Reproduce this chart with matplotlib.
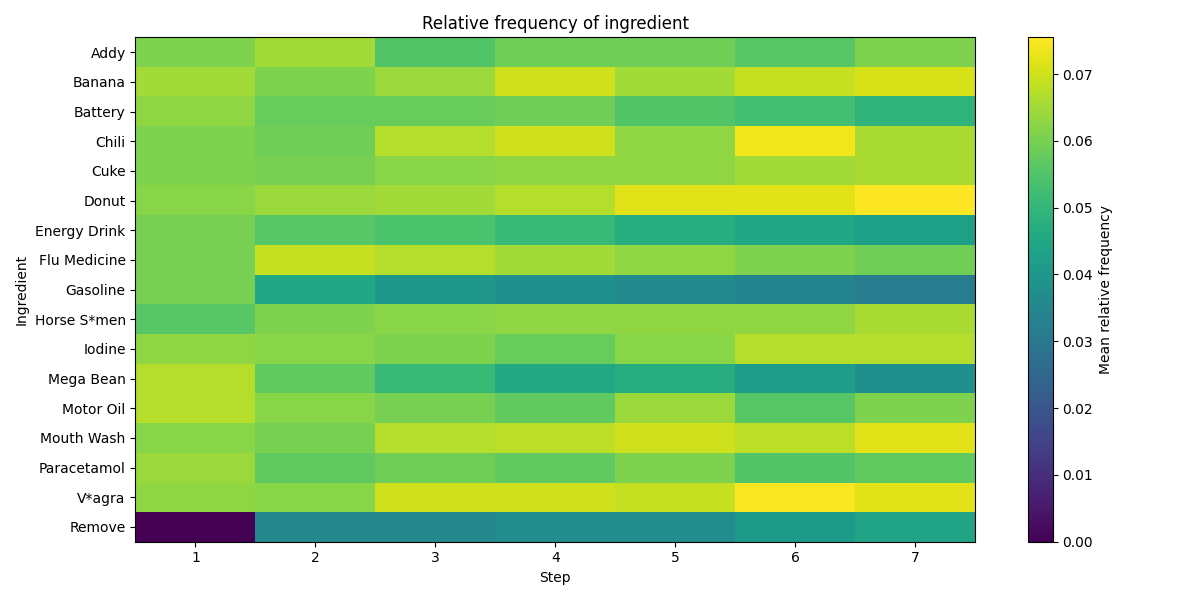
import matplotlib
matplotlib.use("Agg")
import matplotlib.pyplot as plt
import numpy as np

ingredients = ["Addy", "Banana", "Battery", "Chili", "Cuke", "Donut", "Energy Drink",
               "Flu Medicine", "Gasoline", "Horse S*men", "Iodine", "Mega Bean",
               "Motor Oil", "Mouth Wash", "Paracetamol", "V*agra", "Remove"]
steps = [1, 2, 3, 4, 5, 6, 7]

addy = [0.061, 0.065, 0.055, 0.059, 0.059, 0.056, 0.061]
banana = [0.065, 0.061, 0.064, 0.070, 0.065, 0.069, 0.071]
battery = [0.063, 0.058, 0.058, 0.059, 0.055, 0.053, 0.049]
chili = [0.061, 0.059, 0.067, 0.070, 0.063, 0.074, 0.066]
cuke = [0.061, 0.060, 0.062, 0.063, 0.063, 0.065, 0.066]
donut = [0.062, 0.064, 0.065, 0.067, 0.072, 0.072, 0.0755]
energy = [0.060, 0.056, 0.054, 0.051, 0.047, 0.045, 0.043]
flu = [0.060, 0.069, 0.067, 0.065, 0.063, 0.061, 0.059]
gasoline = [0.060, 0.045, 0.040, 0.038, 0.036, 0.034, 0.032]
horse = [0.056, 0.061, 0.062, 0.063, 0.063, 0.063, 0.066]
iodine = [0.063, 0.062, 0.061, 0.058, 0.062, 0.067, 0.067]
mega = [0.067, 0.057, 0.051, 0.046, 0.047, 0.042, 0.038]
motor = [0.067, 0.062, 0.060, 0.057, 0.064, 0.056, 0.061]
mouth = [0.062, 0.060, 0.067, 0.068, 0.070, 0.068, 0.072]
para = [0.064, 0.057, 0.059, 0.057, 0.061, 0.055, 0.057]
viagra = [0.063, 0.062, 0.070, 0.070, 0.069, 0.075, 0.072]
remove = [0.0, 0.035, 0.035, 0.037, 0.037, 0.041, 0.044]

data = np.array([addy, banana, battery, chili, cuke, donut, energy, flu, gasoline,
                 horse, iodine, mega, motor, mouth, para, viagra, remove])

fig, ax = plt.subplots(figsize=(12, 6), dpi=100)
im = ax.imshow(data, aspect="auto", cmap="viridis", interpolation="nearest",
               extent=(0.5, 7.5, len(ingredients) - 0.5, -0.5))
ax.set_xticks(steps)
ax.set_yticks(range(len(ingredients)))
ax.set_yticklabels(ingredients)
ax.set_xlabel("Step")
ax.set_ylabel("Ingredient")
ax.set_title("Relative frequency of ingredient")
fig.colorbar(im, ax=ax, label="Mean relative frequency")
fig.tight_layout()
fig.savefig("out.png")
